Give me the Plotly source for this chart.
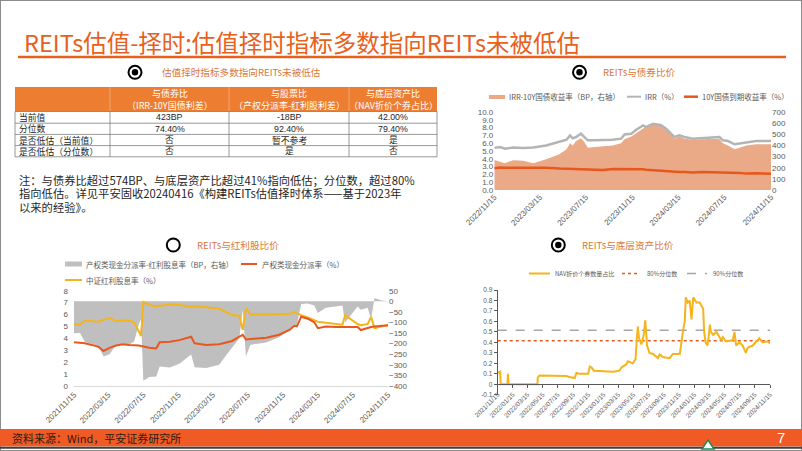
import plotly.graph_objects as go

W, H = 802, 451
def X(px): return px / W
def Y(py): return 1 - py / H

CJK = "Noto Sans CJK SC"
NUM = "Liberation Sans, Noto Sans CJK SC"
GRAY_TXT = "#595959"
TITLE_C = "#D9773A"

# ---------------- table data ----------------
header_line1 = ["与债券比", "与股票比", "与底层资产比"]
header_line2 = ["（IRR-10Y国债利差）", "（产权分派率-红利股利差）", "（NAV折价个券占比）"]
row_labels = ["当前值", "分位数", "是否低估（当前值）", "是否低估（分位数）"]
bond_col = ["423BP", "74.40%", "否", "否"]
stock_col = ["-18BP", "92.40%", "暂不参考", "是"]
nav_col = ["42.00%", "79.40%", "是", "否"]

# ---------------- REITs vs bonds ----------------
bond_dates = ["2022-11-15","2022-11-30","2022-12-13","2023-01-04","2023-01-30","2023-02-26","2023-04-01","2023-05-06","2023-05-25","2023-06-03",
              "2023-06-10","2023-06-19","2023-07-02","2023-07-11","2023-07-20","2023-08-07","2023-08-29","2023-09-24","2023-10-16","2023-10-25",
              "2023-11-12","2023-11-25","2023-12-13","2023-12-21","2024-01-08","2024-01-30","2024-02-12","2024-02-26","2024-03-05","2024-03-18",
              "2024-03-31","2024-04-22","2024-05-19","2024-06-15","2024-07-02","2024-07-11","2024-07-24","2024-08-11","2024-08-24","2024-09-11",
              "2024-10-07","2024-11-15"]
irr = [5.4,5.5,5.3,5.45,5.4,5.45,5.7,6.16,6.45,7.0,
       6.62,6.79,7.22,6.79,6.37,6.37,6.37,6.45,6.58,7.13,
       7.22,7.73,8.28,8.07,8.49,8.28,7.86,7.22,6.79,7.0,
       6.79,6.58,6.67,6.79,6.79,6.37,6.28,5.86,5.94,6.11,
       6.28,6.28]
cgb10y = [2.8,2.88,2.85,2.85,2.9,2.9,2.86,2.75,2.72,2.7,
          2.68,2.66,2.65,2.64,2.62,2.6,2.56,2.68,2.68,2.7,
          2.68,2.68,2.65,2.6,2.52,2.43,2.43,2.37,2.33,2.3,
          2.3,2.25,2.3,2.28,2.23,2.27,2.26,2.18,2.18,2.1,
          2.15,2.08]
irr_spread_bp = [270,255,240,268,262,240,275,320,365,420,
                 400,440,465,430,380,385,390,400,420,455,
                 480,510,550,570,600,595,555,505,460,480,
                 460,450,455,460,455,420,400,365,380,400,
                 410,410]
bond_ticks = ["2022/11/15","2023/03/15","2023/07/15","2023/11/15","2024/03/15","2024/07/15","2024/11/15"]

# ---------------- REITs vs dividend stocks ----------------
div_dates = ["2021-11-15","2021-12-06","2021-12-23","2022-01-16","2022-02-08","2022-02-26","2022-03-19","2022-04-11","2022-05-04","2022-05-27",
             "2022-06-13","2022-06-29","2022-07-07","2022-07-15","2022-08-05","2022-08-29","2022-09-10","2022-10-15","2022-11-18","2022-12-29",
             "2023-01-10","2023-02-20","2023-04-06","2023-04-30","2023-05-21","2023-06-15","2023-06-27","2023-07-08","2023-07-24","2023-09-17",
             "2023-11-01","2023-12-07","2023-12-24","2024-01-02","2024-01-17","2024-02-09","2024-03-03","2024-03-15","2024-04-12","2024-05-18",
             "2024-06-09","2024-06-18","2024-07-09","2024-08-01","2024-08-12","2024-09-05","2024-09-17","2024-09-29","2024-10-21","2024-11-15"]
csi_div_yield = [5.18,5.15,5.5,5.45,5.4,5.55,5.7,5.45,5.5,5.5,
                 5.35,4.5,4.2,7.05,6.8,6.7,6.75,6.85,6.8,6.65,
                 6.7,6.6,6.5,6.2,5.95,5.9,4.7,6.5,6.0,6.0,
                 6.0,6.05,6.2,6.1,5.95,5.75,5.55,5.4,5.3,5.2,
                 5.15,5.95,5.6,5.2,5.1,5.2,5.8,4.85,5.0,5.1]
reit_payout = [3.67,3.65,3.58,3.45,3.3,2.94,3.2,3.4,3.5,3.45,
               3.45,3.4,3.35,3.3,3.22,3.15,3.67,3.72,3.85,4.14,
               3.58,3.45,3.5,3.65,3.78,4.15,4.3,3.9,3.95,4.05,
               4.3,4.7,5.05,5.0,5.82,5.65,5.35,4.85,5.0,4.95,
               4.95,4.95,4.97,4.95,4.7,4.9,4.95,5.0,5.05,5.1]
payout_spread_bp = [-151,-150,-192,-200,-210,-261,-250,-205,-200,-205,
                    -190,-110,-85,-375,-358,-355,-308,-313,-295,-251,
                    -312,-315,-300,-255,-217,-175,-40,-260,-205,-195,
                    -170,-135,-115,-110,-13,-10,-20,-55,-30,-25,
                    -20,-100,-63,-25,-40,-30,-85,15,5,0]
div_ticks = ["2021/11/15","2022/03/15","2022/07/15","2022/11/15","2023/03/15","2023/07/15","2023/11/15","2024/03/15","2024/07/15","2024/11/15"]

# ---------------- REITs vs underlying assets ----------------
nav_dates = ["2021-11-15","2021-11-25","2021-11-27","2021-12-24","2021-12-26","2021-12-29","2022-04-24","2022-04-25","2022-05-02","2022-06-12",
             "2022-08-18","2022-08-31","2022-09-21","2022-09-28","2022-10-10","2022-11-14","2022-11-21","2022-11-28","2022-12-07","2023-01-15",
             "2023-02-23","2023-03-20","2023-03-28","2023-04-16","2023-04-23","2023-05-13","2023-05-24","2023-05-29","2023-06-02","2023-06-06",
             "2023-06-16","2023-06-25","2023-07-02","2023-07-09","2023-07-19","2023-08-02","2023-08-22","2023-08-29","2023-09-11","2023-10-08",
             "2023-10-21","2023-11-18","2023-11-25","2023-12-01","2023-12-08","2023-12-12","2023-12-20","2023-12-28","2024-01-04","2024-01-11",
             "2024-01-24","2024-02-06","2024-02-20","2024-02-24","2024-03-01","2024-03-08","2024-03-13","2024-03-18","2024-03-22","2024-03-31",
             "2024-04-13","2024-04-26","2024-05-03","2024-05-09","2024-05-22","2024-06-18","2024-06-25","2024-07-02","2024-07-15","2024-07-28",
             "2024-08-10","2024-08-17","2024-09-06","2024-10-03","2024-10-16","2024-11-05","2024-11-15"]
nav_discount_ratio = [0.11,0.12,0.0,0.0,0.10,0.0,0.0,0.06,0.085,0.085,
                      0.08,0.07,0.06,0.11,0.10,0.10,0.17,0.16,0.13,0.125,
                      0.12,0.13,0.16,0.19,0.22,0.20,0.24,0.44,0.55,0.45,
                      0.38,0.46,0.61,0.37,0.30,0.29,0.25,0.285,0.26,0.25,
                      0.29,0.29,0.44,0.51,0.60,0.83,0.78,0.80,0.62,0.83,
                      0.78,0.78,0.72,0.50,0.40,0.37,0.45,0.57,0.50,0.47,
                      0.50,0.44,0.42,0.45,0.41,0.42,0.50,0.37,0.40,0.37,
                      0.30,0.35,0.37,0.44,0.40,0.41,0.39]
nav_q80 = 0.415
nav_q90 = 0.515
nav_span = ["2021-11-15", "2024-11-15"]
nav_ticks = ["2021/11/15","2022/01/15","2022/03/15","2022/05/15","2022/07/15","2022/09/15","2022/11/15","2023/01/15","2023/03/15","2023/05/15",
             "2023/07/15","2023/09/15","2023/11/15","2024/01/15","2024/03/15","2024/05/15","2024/07/15","2024/09/15","2024/11/15"]
nav_yticks = [-0.1,0,0.1,0.2,0.3,0.4,0.5,0.6,0.7,0.8,0.9]
nav_yticktext = ["-0.1","0","0.1","0.2","0.3","0.4","0.5","0.6","0.7","0.8","0.9"]

C_SALMON = "rgb(234,170,135)"
C_IRR = "#B4B4B4"
C_RED = "#E8581E"
C_GOLD = "#F5B41C"
C_GRAYAREA = "#BFBFBF"

fig = go.Figure()

# top-right chart
fig.add_trace(go.Scatter(x=bond_dates, y=irr_spread_bp, xaxis="x", yaxis="y", mode="lines", fill="tozeroy",
                         line=dict(width=0, color=C_SALMON), fillcolor=C_SALMON, showlegend=False))
fig.add_trace(go.Scatter(x=bond_dates, y=irr, xaxis="x", yaxis="y2", mode="lines",
                         line=dict(width=2.5, color=C_IRR), showlegend=False))
fig.add_trace(go.Scatter(x=bond_dates, y=cgb10y, xaxis="x", yaxis="y2", mode="lines",
                         line=dict(width=2.5, color=C_RED), showlegend=False))

# bottom-left chart
fig.add_trace(go.Scatter(x=div_dates, y=payout_spread_bp, xaxis="x2", yaxis="y3", mode="lines", fill="tozeroy",
                         line=dict(width=0, color=C_GRAYAREA), fillcolor=C_GRAYAREA, showlegend=False))
fig.add_trace(go.Scatter(x=div_dates, y=csi_div_yield, xaxis="x2", yaxis="y4", mode="lines",
                         line=dict(width=2, color=C_GOLD), showlegend=False))
fig.add_trace(go.Scatter(x=div_dates, y=reit_payout, xaxis="x2", yaxis="y4", mode="lines",
                         line=dict(width=2, color=C_RED), showlegend=False))

# bottom-right chart
fig.add_trace(go.Scatter(x=nav_span, y=[nav_q90, nav_q90], xaxis="x3", yaxis="y5", mode="lines",
                         line=dict(width=1.5, color="#A6A6A6", dash="dash"), showlegend=False))
fig.add_trace(go.Scatter(x=nav_span, y=[nav_q80, nav_q80], xaxis="x3", yaxis="y5", mode="lines",
                         line=dict(width=1.5, color="#E8581E", dash="dot"), showlegend=False))
fig.add_trace(go.Scatter(x=nav_dates, y=nav_discount_ratio, xaxis="x3", yaxis="y5", mode="lines",
                         line=dict(width=2, color=C_GOLD), showlegend=False))

tickfont8 = dict(size=8, color=GRAY_TXT, family=NUM)
tickfont7 = dict(size=6.5, color=GRAY_TXT, family=NUM)

def dates(ticks):
    return [t.replace("/", "-") for t in ticks]

common = dict(showgrid=False, zeroline=False, automargin=False)
layout = dict(
    width=W, height=H, autosize=False, margin=dict(l=0, r=0, t=0, b=0, pad=0),
    paper_bgcolor="white", plot_bgcolor="rgba(0,0,0,0)", showlegend=False,
    xaxis=dict(domain=[X(494.3), X(771)], anchor="y", type="date", range=["2022-11-15", "2024-11-15"],
               tickvals=dates(bond_ticks), ticktext=bond_ticks, tickangle=-45, tickfont=tickfont8,
               showline=False, ticks="", **common),
    yaxis=dict(domain=[Y(190), Y(112)], anchor="x", side="right", range=[0, 700], tickvals=list(range(0, 701, 100)),
               tickfont=tickfont8, ticks="", **common),
    yaxis2=dict(overlaying="y", anchor="x", side="left", range=[0, 10], tickvals=list(range(0, 11)),
                tickformat=".1f", tickfont=tickfont8, ticks="", **common),
    xaxis2=dict(domain=[X(74), X(388)], anchor="y3", type="date", range=["2021-11-15", "2024-11-15"],
                tickvals=dates(div_ticks), ticktext=div_ticks, tickangle=-45, tickfont=tickfont8,
                showline=True, linecolor="#D9D9D9", linewidth=1, ticks="", **common),
    yaxis3=dict(domain=[Y(386), Y(290.7)], anchor="x2", side="right", range=[-400, 50], tickvals=list(range(-400, 51, 50)),
                tickfont=tickfont8, ticks="", **common),
    yaxis4=dict(overlaying="y3", anchor="x2", side="left", range=[0, 8], tickvals=list(range(0, 9)),
                tickfont=tickfont8, ticks="", ticklabelstandoff=5, **common),
    xaxis3=dict(domain=[X(497.7), X(770)], anchor="free", position=Y(384.3), type="date", range=["2021-11-15", "2024-11-15"],
                tickvals=dates(nav_ticks), ticktext=nav_ticks, tickangle=-45, tickfont=tickfont7,
                showline=True, linecolor="#595959", linewidth=1,
                ticks="outside", ticklen=3, tickcolor="#595959", **common),
    yaxis5=dict(domain=[Y(394.8), Y(290)], anchor="x3", range=[-0.1, 0.9], tickvals=nav_yticks, ticktext=nav_yticktext,
                tickfont=tickfont7, showline=True, linecolor="#595959", linewidth=1,
                ticks="outside", ticklen=3, tickcolor="#595959", **common),
)
fig.update_layout(**layout)

shapes = []
ann = []

def text(x, y, s, size, color, xanchor="left", family=CJK):
    ann.append(dict(x=X(x), y=Y(y), xref="paper", yref="paper", text=s, showarrow=False,
                    xanchor=xanchor, yanchor="middle", font=dict(size=size, color=color, family=family)))

def hline(x0, x1, y, color, width, dash="solid"):
    shapes.append(dict(type="line", xref="paper", yref="paper", x0=X(x0), x1=X(x1), y0=Y(y), y1=Y(y),
                       line=dict(color=color, width=width, dash=dash)))

def vline(x, y0, y1, color, width):
    shapes.append(dict(type="line", xref="paper", yref="paper", x0=X(x), x1=X(x), y0=Y(y0), y1=Y(y1),
                       line=dict(color=color, width=width)))

def rect(x0, y0, x1, y1, fill, line_color=None, lw=0):
    shapes.append(dict(type="rect", xref="paper", yref="paper", x0=X(x0), x1=X(x1), y0=Y(y1), y1=Y(y0),
                       fillcolor=fill, line=dict(color=line_color or fill, width=lw)))

def circle(cx, cy, r, fill, line_color, lw):
    shapes.append(dict(type="circle", xref="paper", yref="paper", x0=X(cx - r), x1=X(cx + r), y0=Y(cy + r), y1=Y(cy - r),
                       fillcolor=fill, line=dict(color=line_color, width=lw)))

def bullet(cx, cy, filled=True):
    circle(cx, cy, 6.5, "white", "black", 2)
    if filled:
        circle(cx, cy, 3.2, "black", "black", 0)

# page frame
shapes.append(dict(type="rect", xref="paper", yref="paper", x0=0, x1=1, y0=0, y1=1,
                   line=dict(color="#8C8C8C", width=2), fillcolor="rgba(0,0,0,0)"))

# title
text(22, 42, "REITs估值-择时:估值择时指标多数指向REITs未被低估", 23.5, "#E8601C")
hline(18, 786, 57, "#E8601C", 2.5)

# section titles
bullet(135, 72.3)
text(160, 72.3, "估值择时指标多数指向REITs未被低估", 9.6, TITLE_C)
bullet(579.5, 72.3)
text(601, 72.3, "REITs与债券比价", 9.6, TITLE_C)
bullet(173.3, 245, filled=False)
text(195, 245, "REITs与红利股比价", 9.6, TITLE_C)
bullet(558.3, 245)
text(580, 245, "REITs与底层资产比价", 9.6, TITLE_C)

# table (manual grid)
col_edges = [15, 110, 229, 349, 437]
row_edges = [87, 111.5, 123.2, 134.4, 145.6, 156.8]
rect(col_edges[0], row_edges[0], col_edges[-1], row_edges[1], "#ED7D31")
for cx in col_edges[1:-1]:
    vline(cx, row_edges[0], row_edges[1], "#F4B183", 0.8)
for ry in row_edges[1:]:
    hline(col_edges[0], col_edges[-1], ry, "#7F7F7F", 0.8)
for cx in col_edges:
    vline(cx, row_edges[1], row_edges[-1], "#7F7F7F", 0.8)
for i in range(3):
    cxm = (col_edges[i + 1] + col_edges[i + 2]) / 2
    text(cxm, 93.6, header_line1[i], 9, "white", xanchor="center")
    text(cxm, 105.6, header_line2[i], 9, "white", xanchor="center")
body_cols = [bond_col, stock_col, nav_col]
for r in range(4):
    cy = (row_edges[r + 1] + row_edges[r + 2]) / 2
    text(17, cy, row_labels[r], 8.8, "#262626")
    for i in range(3):
        cxm = (col_edges[i + 1] + col_edges[i + 2]) / 2
        text(cxm, cy, body_cols[i][r], 8.8, "#262626", xanchor="center", family=NUM)

# note
text(17, 180, "注：与债券比超过574BP、与底层资产比超过41%指向低估；分位数，超过80%", 11.3, "#262626")
text(17, 193.5, "指向低估。详见平安固收20240416《构建REITs估值择时体系——基于2023年", 11.3, "#262626")
text(17, 207, "以来的经验》。", 11.3, "#262626")

# legends: top-right
rect(489, 95, 505, 99, C_SALMON)
text(507, 96.7, "IRR-10Y国债收益率（BP，右轴）", 7.5, GRAY_TXT)
hline(627, 641, 96.7, C_IRR, 2)
text(643, 96.7, "IRR（%）", 7.5, GRAY_TXT)
hline(684, 698, 96.7, C_RED, 2.5)
text(700, 96.7, "10Y国债到期收益率（%）", 7.5, GRAY_TXT)

# legends: bottom-left
rect(65, 261.5, 82, 266.5, C_GRAYAREA)
text(84, 264, "产权类现金分派率-红利股息率（BP，右轴）", 7.5, GRAY_TXT)
hline(241, 257, 264, C_RED, 2)
text(260, 264, "产权类现金分派率（%）", 7.5, GRAY_TXT)
hline(65, 82, 280, C_GOLD, 2)
text(84, 280, "中证红利股息率（%）", 7.5, GRAY_TXT)

# legends: bottom-right
hline(529, 550, 273.5, C_GOLD, 2)
text(553, 273.5, "NAV折价个券数量占比", 6, GRAY_TXT)
hline(622, 640, 273.5, C_RED, 1.5, "dot")
text(645, 273.5, "80%分位数", 6, GRAY_TXT)
hline(687, 707, 273.5, "#A6A6A6", 1.5, "dash")
text(711, 273.5, "90%分位数", 6, GRAY_TXT)

# footer
rect(0, 429, 802, 446.5, "#F05A24")
hline(0, 802, 447.8, "#404040", 2)
text(10, 438, "资料来源：Wind，平安证券研究所", 11, "#2B1D14")
text(781, 437, "7", 15, "white", xanchor="center", family=NUM)
shapes.append(dict(type="path", xref="paper", yref="paper",
                   path=f"M {X(702)},{Y(449)} L {X(708)},{Y(440)} L {X(714)},{Y(449)} Z",
                   fillcolor="white", line=dict(color="#1E8C4E", width=1.5)))

fig.update_layout(shapes=shapes, annotations=ann)
fig.write_html("out.html", config={"displayModeBar": False},
               post_script="document.documentElement.style.margin='0';document.body.style.margin='0';"
                           "document.body.style.padding='0';document.body.style.overflow='hidden';")
